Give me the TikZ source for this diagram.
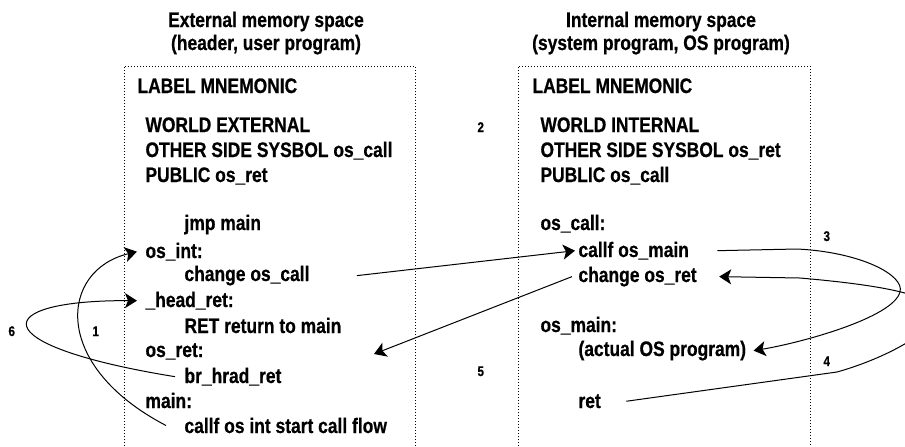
\documentclass[tikz,border=0pt]{standalone}
\usepackage{fontspec}
\setmainfont{Liberation Sans}[FakeStretch=0.83, BoldFeatures={FakeBold=0.6}]
\usetikzlibrary{arrows.meta}
\begin{document}
\begin{tikzpicture}[
    x=0.5pt, y=-0.5pt,
    line width=0.5pt,
    code/.style={anchor=base west, inner sep=0pt, font=\fontsize{10.5}{12}\selectfont\bfseries},
    title/.style={anchor=base, inner sep=0pt, font=\fontsize{10.5}{12}\selectfont\bfseries},
    num/.style={anchor=base west, inner sep=0pt, font=\fontsize{7}{8}\selectfont\bfseries},
    space/.style={dash pattern=on 0.5pt off 1pt},
    flow/.style={-{Stealth[length=6pt, width=7.5pt, inset=1.5pt]}},
]
\useasboundingbox (0,0) rectangle (905,446);
\clip (0,0) rectangle (905,446);

% Titles
\node[title] (exttitle) at (266,27) {External memory space};
\node[title] (extsub) at (266,50) {(header, user program)};
\node[title] (inttitle) at (661,27) {Internal memory space};
\node[title] (intsub) at (661,50) {(system program, OS program)};

% Memory spaces
\draw[space] (124,446) -- (124,66) -- (415,66) -- (415,446);
\draw[space] (518,446) -- (518,66) -- (810,66) -- (810,446);

% External program
\node[code] (extlabel) at (137,93) {LABEL MNEMONIC};
\node[code] (extworld) at (145,132) {WORLD EXTERNAL};
\node[code] (extother) at (145,157) {OTHER SIDE SYSBOL os\_call};
\node[code] (extpublic) at (145,182) {PUBLIC os\_ret};
\node[code] (jmpmain) at (184,230) {jmp main};
\node[code] (osint) at (145,258) {os\_int:};
\node[code] (chcall) at (184,281) {change os\_call};
\node[code] (headret) at (145,307) {\_head\_ret:};
\node[code] (retmain) at (184,333) {RET return to main};
\node[code] (osret) at (145,357) {os\_ret:};
\node[code] (brret) at (184,383) {br\_hrad\_ret};
\node[code] (mainlbl) at (145,408) {main:};
\node[code] (callfint) at (184,433) {callf os int start call flow};

% Internal program
\node[code] (intlabel) at (532,93) {LABEL MNEMONIC};
\node[code] (intworld) at (540,132) {WORLD INTERNAL};
\node[code] (intother) at (540,157) {OTHER SIDE SYSBOL os\_ret};
\node[code] (intpublic) at (540,182) {PUBLIC os\_call};
\node[code] (oscall) at (540,230) {os\_call:};
\node[code] (callfmain) at (578,257) {callf os\_main};
\node[code] (chret) at (578,282) {change os\_ret};
\node[code] (osmain) at (540,332) {os\_main:};
\node[code] (actual) at (578,356) {(actual OS program)};
\node[code] (ret) at (578,408) {ret};

% Step numbers
\node[num] (n1) at (92,336) {1};
\node[num] (n2) at (477,132) {2};
\node[num] (n3) at (823,241) {3};
\node[num] (n4) at (823,366) {4};
\node[num] (n5) at (477,376) {5};
\node[num] (n6) at (8,336) {6};

\coordinate (toret) at (374,354);

% Call flow
\draw[flow] ([xshift=-9pt]callfint.west) .. controls (50,365) and (60,270) .. ([xshift=-4pt]osint.west);
\draw[flow] ([xshift=23.5pt]chcall.east) -- ([xshift=-1.5pt]callfmain.west);
\draw[flow] ([xshift=14pt]callfmain.east) -- (797,249) .. controls (860,252) and (905,275) .. (900,292) .. controls (893,318) and (800,343) .. ([xshift=3.5pt]actual.east);
\draw[flow] ([xshift=12.5pt]ret.east) -- (837,372) .. controls (880,360) and (930,335) .. (935,315) .. controls (940,295) and (880,285) .. (800,278) -- ([xshift=11pt]chret.east);
\draw[flow] ([xshift=-3pt]chret.west) -- (toret);
\draw[flow] ([xshift=-4.5pt]brret.west) .. controls (-20,345) and (-10,300) .. ([xshift=-4pt]headret.west);
\end{tikzpicture}
\end{document}
